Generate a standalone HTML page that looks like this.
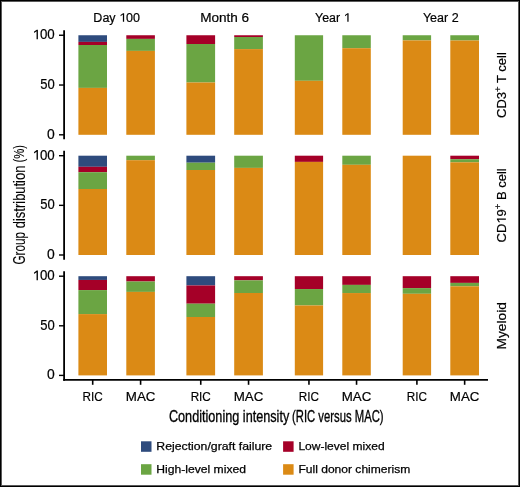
<!DOCTYPE html>
<html><head><meta charset="utf-8"><style>
html,body{margin:0;padding:0;background:#fff;}
#wrap{position:relative;width:520px;height:487px;overflow:hidden;background:#fff;}
svg{position:absolute;left:0;top:0;will-change:transform;}
.ti{stroke-width:0.32px;}
.ty{stroke-width:0.12px;}
.lg{stroke-width:0.25px;}
#bd{position:absolute;left:0;top:0;width:520px;height:487px;box-shadow:inset 0 0 0 1px #000,inset 0 0 0 2px #5a5a5a;}
</style></head><body><div id="wrap">
<svg width="520" height="487" viewBox="0 0 520 487" font-family='"Liberation Sans", sans-serif' fill="#000" stroke="#000" stroke-width="0.2">
<rect x="78.4" y="35.25" width="28.6" height="6.65" fill="#2E4B7D" stroke="none"/>
<rect x="78.4" y="41.9" width="28.6" height="3.1" fill="#A50028" stroke="none"/>
<rect x="78.4" y="45" width="28.6" height="42.9" fill="#6BA543" stroke="none"/>
<rect x="78.4" y="87.9" width="28.6" height="46.9" fill="#DB8A15" stroke="none"/>
<rect x="126.3" y="35.25" width="28.6" height="3.65" fill="#A50028" stroke="none"/>
<rect x="126.3" y="38.9" width="28.6" height="12" fill="#6BA543" stroke="none"/>
<rect x="126.3" y="50.9" width="28.6" height="83.9" fill="#DB8A15" stroke="none"/>
<rect x="186.4" y="35.25" width="28.7" height="8.75" fill="#A50028" stroke="none"/>
<rect x="186.4" y="44" width="28.7" height="38.5" fill="#6BA543" stroke="none"/>
<rect x="186.4" y="82.5" width="28.7" height="52.3" fill="#DB8A15" stroke="none"/>
<rect x="234.2" y="35.25" width="28.7" height="1.75" fill="#A50028" stroke="none"/>
<rect x="234.2" y="37" width="28.7" height="12.1" fill="#6BA543" stroke="none"/>
<rect x="234.2" y="49.1" width="28.7" height="85.7" fill="#DB8A15" stroke="none"/>
<rect x="294.8" y="35.25" width="28.3" height="45.55" fill="#6BA543" stroke="none"/>
<rect x="294.8" y="80.8" width="28.3" height="54" fill="#DB8A15" stroke="none"/>
<rect x="342.3" y="35.25" width="28.5" height="12.95" fill="#6BA543" stroke="none"/>
<rect x="342.3" y="48.2" width="28.5" height="86.6" fill="#DB8A15" stroke="none"/>
<rect x="402.7" y="35.25" width="28.4" height="5.15" fill="#6BA543" stroke="none"/>
<rect x="402.7" y="40.4" width="28.4" height="94.4" fill="#DB8A15" stroke="none"/>
<rect x="450.3" y="35.25" width="28.7" height="5.25" fill="#6BA543" stroke="none"/>
<rect x="450.3" y="40.5" width="28.7" height="94.3" fill="#DB8A15" stroke="none"/>
<rect x="78.4" y="155.7" width="28.6" height="11.1" fill="#2E4B7D" stroke="none"/>
<rect x="78.4" y="166.8" width="28.6" height="5.4" fill="#A50028" stroke="none"/>
<rect x="78.4" y="172.2" width="28.6" height="16.8" fill="#6BA543" stroke="none"/>
<rect x="78.4" y="189" width="28.6" height="66" fill="#DB8A15" stroke="none"/>
<rect x="126.3" y="155.7" width="28.6" height="4.5" fill="#6BA543" stroke="none"/>
<rect x="126.3" y="160.2" width="28.6" height="94.8" fill="#DB8A15" stroke="none"/>
<rect x="186.4" y="155.7" width="28.7" height="7" fill="#2E4B7D" stroke="none"/>
<rect x="186.4" y="162.7" width="28.7" height="7.3" fill="#6BA543" stroke="none"/>
<rect x="186.4" y="170" width="28.7" height="85" fill="#DB8A15" stroke="none"/>
<rect x="234.2" y="155.7" width="28.7" height="12.2" fill="#6BA543" stroke="none"/>
<rect x="234.2" y="167.9" width="28.7" height="87.1" fill="#DB8A15" stroke="none"/>
<rect x="294.8" y="155.7" width="28.3" height="6.2" fill="#A50028" stroke="none"/>
<rect x="294.8" y="161.9" width="28.3" height="93.1" fill="#DB8A15" stroke="none"/>
<rect x="342.3" y="155.7" width="28.5" height="9.1" fill="#6BA543" stroke="none"/>
<rect x="342.3" y="164.8" width="28.5" height="90.2" fill="#DB8A15" stroke="none"/>
<rect x="402.7" y="155.7" width="28.4" height="99.3" fill="#DB8A15" stroke="none"/>
<rect x="450.3" y="155.7" width="28.7" height="3.5" fill="#A50028" stroke="none"/>
<rect x="450.3" y="159.2" width="28.7" height="3.1" fill="#6BA543" stroke="none"/>
<rect x="450.3" y="162.3" width="28.7" height="92.7" fill="#DB8A15" stroke="none"/>
<rect x="78.4" y="276.2" width="28.6" height="3.75" fill="#2E4B7D" stroke="none"/>
<rect x="78.4" y="279.95" width="28.6" height="10.15" fill="#A50028" stroke="none"/>
<rect x="78.4" y="290.1" width="28.6" height="24" fill="#6BA543" stroke="none"/>
<rect x="78.4" y="314.1" width="28.6" height="61.3" fill="#DB8A15" stroke="none"/>
<rect x="126.3" y="276.2" width="28.6" height="5.3" fill="#A50028" stroke="none"/>
<rect x="126.3" y="281.5" width="28.6" height="10.4" fill="#6BA543" stroke="none"/>
<rect x="126.3" y="291.9" width="28.6" height="83.5" fill="#DB8A15" stroke="none"/>
<rect x="186.4" y="276.2" width="28.7" height="9.25" fill="#2E4B7D" stroke="none"/>
<rect x="186.4" y="285.45" width="28.7" height="18.25" fill="#A50028" stroke="none"/>
<rect x="186.4" y="303.7" width="28.7" height="13.3" fill="#6BA543" stroke="none"/>
<rect x="186.4" y="317" width="28.7" height="58.4" fill="#DB8A15" stroke="none"/>
<rect x="234.2" y="276.2" width="28.7" height="4.15" fill="#A50028" stroke="none"/>
<rect x="234.2" y="280.35" width="28.7" height="12.65" fill="#6BA543" stroke="none"/>
<rect x="234.2" y="293" width="28.7" height="82.4" fill="#DB8A15" stroke="none"/>
<rect x="294.8" y="276.2" width="28.3" height="12.85" fill="#A50028" stroke="none"/>
<rect x="294.8" y="289.05" width="28.3" height="16.4" fill="#6BA543" stroke="none"/>
<rect x="294.8" y="305.45" width="28.3" height="69.95" fill="#DB8A15" stroke="none"/>
<rect x="342.3" y="276.2" width="28.5" height="8.7" fill="#A50028" stroke="none"/>
<rect x="342.3" y="284.9" width="28.5" height="8.15" fill="#6BA543" stroke="none"/>
<rect x="342.3" y="293.05" width="28.5" height="82.35" fill="#DB8A15" stroke="none"/>
<rect x="402.7" y="276.2" width="28.4" height="11.9" fill="#A50028" stroke="none"/>
<rect x="402.7" y="288.1" width="28.4" height="5.7" fill="#6BA543" stroke="none"/>
<rect x="402.7" y="293.8" width="28.4" height="81.6" fill="#DB8A15" stroke="none"/>
<rect x="450.3" y="276.2" width="28.7" height="6.7" fill="#A50028" stroke="none"/>
<rect x="450.3" y="282.9" width="28.7" height="3.4" fill="#6BA543" stroke="none"/>
<rect x="450.3" y="286.3" width="28.7" height="89.1" fill="#DB8A15" stroke="none"/>
<line x1="64.1" y1="30.2" x2="64.1" y2="139.3" stroke="#000" stroke-width="1.8"/>
<line x1="59" y1="35.25" x2="64.1" y2="35.25" stroke="#000" stroke-width="1.4"/>
<text x="54.7" y="39.25" text-anchor="end" font-size="13.9" textLength="22.2" lengthAdjust="spacingAndGlyphs"> 00</text>
<line x1="59" y1="85.03" x2="64.1" y2="85.03" stroke="#000" stroke-width="1.4"/>
<text x="54.7" y="89.03" text-anchor="end" font-size="13.9" textLength="14.5" lengthAdjust="spacingAndGlyphs">50</text>
<line x1="59" y1="134.8" x2="64.1" y2="134.8" stroke="#000" stroke-width="1.4"/>
<text x="54.7" y="138.8" text-anchor="end" font-size="13.9">0</text>
<line x1="64.1" y1="150.8" x2="64.1" y2="259.8" stroke="#000" stroke-width="1.8"/>
<line x1="59" y1="155.7" x2="64.1" y2="155.7" stroke="#000" stroke-width="1.4"/>
<text x="54.7" y="159.7" text-anchor="end" font-size="13.9" textLength="22.2" lengthAdjust="spacingAndGlyphs"> 00</text>
<line x1="59" y1="205.35" x2="64.1" y2="205.35" stroke="#000" stroke-width="1.4"/>
<text x="54.7" y="209.35" text-anchor="end" font-size="13.9" textLength="14.5" lengthAdjust="spacingAndGlyphs">50</text>
<line x1="59" y1="255" x2="64.1" y2="255" stroke="#000" stroke-width="1.4"/>
<text x="54.7" y="259" text-anchor="end" font-size="13.9">0</text>
<line x1="64.1" y1="271.2" x2="64.1" y2="380.7" stroke="#000" stroke-width="1.8"/>
<line x1="59" y1="276.2" x2="64.1" y2="276.2" stroke="#000" stroke-width="1.4"/>
<text x="54.7" y="280.2" text-anchor="end" font-size="13.9" textLength="22.2" lengthAdjust="spacingAndGlyphs"> 00</text>
<line x1="59" y1="325.8" x2="64.1" y2="325.8" stroke="#000" stroke-width="1.4"/>
<text x="54.7" y="329.8" text-anchor="end" font-size="13.9" textLength="14.5" lengthAdjust="spacingAndGlyphs">50</text>
<line x1="59" y1="375.4" x2="64.1" y2="375.4" stroke="#000" stroke-width="1.4"/>
<text x="54.7" y="379.4" text-anchor="end" font-size="13.9">0</text>
<line x1="63.199999999999996" y1="379.95" x2="488" y2="379.95" stroke="#000" stroke-width="1.8"/>
<line x1="92.7" y1="380" x2="92.7" y2="384.8" stroke="#000" stroke-width="1.6"/>
<text x="92.7" y="401" text-anchor="middle" font-size="13.5" textLength="20.2" lengthAdjust="spacingAndGlyphs">RIC</text>
<line x1="140.6" y1="380" x2="140.6" y2="384.8" stroke="#000" stroke-width="1.6"/>
<text x="140.6" y="401" text-anchor="middle" font-size="13.5" textLength="29.6" lengthAdjust="spacingAndGlyphs">MAC</text>
<line x1="200.75" y1="380" x2="200.75" y2="384.8" stroke="#000" stroke-width="1.6"/>
<text x="200.75" y="401" text-anchor="middle" font-size="13.5" textLength="20.2" lengthAdjust="spacingAndGlyphs">RIC</text>
<line x1="248.55" y1="380" x2="248.55" y2="384.8" stroke="#000" stroke-width="1.6"/>
<text x="248.55" y="401" text-anchor="middle" font-size="13.5" textLength="29.6" lengthAdjust="spacingAndGlyphs">MAC</text>
<line x1="308.95" y1="380" x2="308.95" y2="384.8" stroke="#000" stroke-width="1.6"/>
<text x="308.95" y="401" text-anchor="middle" font-size="13.5" textLength="20.2" lengthAdjust="spacingAndGlyphs">RIC</text>
<line x1="356.55" y1="380" x2="356.55" y2="384.8" stroke="#000" stroke-width="1.6"/>
<text x="356.55" y="401" text-anchor="middle" font-size="13.5" textLength="29.6" lengthAdjust="spacingAndGlyphs">MAC</text>
<line x1="416.9" y1="380" x2="416.9" y2="384.8" stroke="#000" stroke-width="1.6"/>
<text x="416.9" y="401" text-anchor="middle" font-size="13.5" textLength="20.2" lengthAdjust="spacingAndGlyphs">RIC</text>
<line x1="464.65" y1="380" x2="464.65" y2="384.8" stroke="#000" stroke-width="1.6"/>
<text x="464.65" y="401" text-anchor="middle" font-size="13.5" textLength="29.6" lengthAdjust="spacingAndGlyphs">MAC</text>
<text x="116.65" y="21.8" text-anchor="middle" font-size="12.5">Day  00</text>
<text x="224.65" y="21.8" text-anchor="middle" font-size="12.5" textLength="49" lengthAdjust="spacingAndGlyphs">Month 6</text>
<text x="332.75" y="21.8" text-anchor="middle" font-size="12.5" textLength="35.4" lengthAdjust="spacingAndGlyphs">Year  </text>
<text x="440.77" y="21.8" text-anchor="middle" font-size="12.5">Year 2</text>
<text transform="translate(505.9 85.03) rotate(-90)" text-anchor="middle" font-size="13">CD3<tspan font-size="9.5" dy="-4.6">+</tspan><tspan dy="4.6"> T cell</tspan></text>
<text transform="translate(505.9 205.35) rotate(-90)" text-anchor="middle" font-size="13">CD 9<tspan font-size="9.5" dy="-4.6">+</tspan><tspan dy="4.6"> B cell</tspan></text>
<text transform="translate(505.9 325.8) rotate(-90)" text-anchor="middle" font-size="13" textLength="47.5" lengthAdjust="spacingAndGlyphs">Myeloid</text>
<text transform="translate(24.7 264.6) rotate(-90)" font-size="15.9" textLength="32.6" lengthAdjust="spacingAndGlyphs" class="ty">Group</text>
<text transform="translate(24.7 228.2) rotate(-90)" font-size="15.9" textLength="62.6" lengthAdjust="spacingAndGlyphs" class="ty">distribution</text>
<text transform="translate(23.9 162.6) rotate(-90)" font-size="15" textLength="17.6" lengthAdjust="spacingAndGlyphs" class="ty">(%)</text>
<text x="168.9" y="421.7" font-size="15.9" textLength="120.4" lengthAdjust="spacingAndGlyphs" class="ti">Conditioning intensity</text>
<text x="292.0" y="421.7" font-size="15.9" textLength="91.6" lengthAdjust="spacingAndGlyphs" class="ti">(RIC versus MAC)</text>
<rect x="141" y="441.3" width="10.5" height="10.5" fill="#2E4B7D" stroke="none"/>
<text x="156.3" y="449.9" font-size="11.6" textLength="115.9" lengthAdjust="spacingAndGlyphs" class="lg">Rejection/graft failure</text>
<rect x="283.1" y="441.3" width="10.5" height="10.5" fill="#A50028" stroke="none"/>
<text x="298.4" y="449.9" font-size="11.6" textLength="86.2" lengthAdjust="spacingAndGlyphs" class="lg">Low-level mixed</text>
<rect x="141" y="464.2" width="10.5" height="10.5" fill="#6BA543" stroke="none"/>
<text x="156.3" y="473.1" font-size="11.6" textLength="89.7" lengthAdjust="spacingAndGlyphs" class="lg">High-level mixed</text>
<rect x="283.1" y="464.2" width="10.5" height="10.5" fill="#DB8A15" stroke="none"/>
<text x="298.4" y="473.1" font-size="11.6" textLength="111.9" lengthAdjust="spacingAndGlyphs" class="lg">Full donor chimerism</text>
<path d="M0.305,0H0.405V-0.69H0.32L0.12,-0.55V-0.445L0.305,-0.575Z" transform=" translate(32.50 39.25) scale(13.314 13.900)" stroke="none"/>
<path d="M0.305,0H0.405V-0.69H0.32L0.12,-0.55V-0.445L0.305,-0.575Z" transform=" translate(32.50 159.70) scale(13.314 13.900)" stroke="none"/>
<path d="M0.305,0H0.405V-0.69H0.32L0.12,-0.55V-0.445L0.305,-0.575Z" transform=" translate(32.50 280.20) scale(13.314 13.900)" stroke="none"/>
<path d="M0.305,0H0.405V-0.69H0.32L0.12,-0.55V-0.445L0.305,-0.575Z" transform=" translate(119.06 21.80) scale(12.529 12.500)" stroke="none"/>
<path d="M0.305,0H0.405V-0.69H0.32L0.12,-0.55V-0.445L0.305,-0.575Z" transform=" translate(343.54 21.80) scale(12.428 12.500)" stroke="none"/>
<path d="M0.305,0H0.405V-0.69H0.32L0.12,-0.55V-0.445L0.305,-0.575Z" transform="translate(505.9 205.35) rotate(-90) translate(-18.34 0.00) scale(13.035 13.000)" stroke="none"/>
</svg><div id="bd"></div></div></body></html>
